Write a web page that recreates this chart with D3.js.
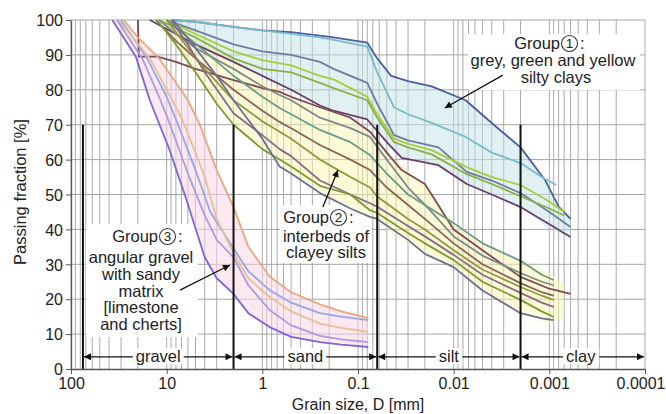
<!DOCTYPE html>
<html><head><meta charset="utf-8">
<script src="https://cdn.jsdelivr.net/npm/d3@7"></script>
<style>body{margin:0;background:#fff}svg{display:block;font-family:"Liberation Sans",Arial,sans-serif}</style>
</head><body><svg id="c" width="666" height="414"></svg>
<script>
// ---------- DATA ----------
const yTicks = [0,10,20,30,40,50,60,70,80,90,100];
const xTicks = [100,10,1,0.1,0.01,0.001,0.0001];
const xTickLabels = ["100","10","1","0.1","0.01","0.001","0.0001"];
const classBounds = [75, 2, 0.063, 0.002];
const classNames = ["gravel","sand","silt","clay"];
const classRanges = [[75,2],[2,0.063],[0.063,0.002],[0.002,0.0001]];

// Group 1 : grey, green and yellow silty clays   [diameter mm, passing %]
const g1DarkBlue = [[9,100],[5,99.5],[2,98],[1,97],[0.5,96.5],[0.25,95.5],[0.18,95],[0.08,93.5],[0.063,89],[0.045,84],[0.03,82.5],[0.017,81],[0.0075,77],[0.004,70.5],[0.002,63.5],[0.0011,54],[0.0008,46.5],[0.0006,43]];
const g1Teal = [[9,100],[5,99.5],[2,98],[1,97],[0.5,96],[0.25,95],[0.18,94.3],[0.08,92.4],[0.063,85],[0.042,75],[0.03,73],[0.017,70.5],[0.0075,66.5],[0.004,62],[0.002,59],[0.0012,55],[0.00085,52.7]];
const g1GreyBlue = [[10,100],[5,97],[2,93],[1,91],[0.5,90],[0.25,88],[0.18,86],[0.08,82],[0.063,76],[0.042,67],[0.03,65.5],[0.0144,63.5],[0.0073,56.5],[0.004,54],[0.002,50.4],[0.001,45],[0.0006,40.7]];
const g1Lime = [[10,100],[5,96],[2,91],[1,88.5],[0.5,87],[0.25,84],[0.18,83],[0.08,78],[0.063,73],[0.042,66],[0.03,64.5],[0.017,62.7],[0.0075,58],[0.004,55],[0.002,52.7],[0.001,48],[0.0007,45]];
const g1Green = [[12,100],[5,95],[2,89],[1,86],[0.5,85],[0.25,82],[0.18,80.5],[0.08,77],[0.063,72],[0.042,65],[0.03,63.5],[0.017,61.5],[0.0075,56],[0.004,53],[0.002,49.5],[0.001,46],[0.0007,44]];
const g1Purple = [[15,100],[5,93],[2,88],[1,84],[0.5,80],[0.25,75.5],[0.18,74],[0.08,71.5],[0.05,65],[0.035,60.5],[0.0144,58.4],[0.0073,53],[0.004,50],[0.002,46.4],[0.001,41.5],[0.0006,37.8]];
// [diameter, lower %, upper %]
const g1Band = [[9,100,100],[5,93,99.5],[2,88,98],[1,84,97],[0.5,80,96.5],[0.25,75.5,95.5],[0.08,71.5,93.5],[0.063,68,89],[0.045,63,84],[0.035,60.5,83],[0.017,58.6,81],[0.0075,53,77],[0.004,50,70.5],[0.002,46.4,63.5],[0.0011,41,54],[0.0008,39,46.5],[0.0006,37.8,43]];

// Group 2 : interbeds of clayey silts
const g2Maroon = [[20,100],[19.5,89.5],[12.5,89.5],[8,88],[5,86],[2,82.8],[1,80.5],[0.66,79.4],[0.5,78],[0.25,75],[0.12,72],[0.075,68],[0.05,62],[0.035,57],[0.02,53],[0.01,40],[0.005,34],[0.002,26.4],[0.001,23],[0.0006,21.5]];
const g2Grey = [[12,100],[8,96],[5,92],[2,86],[1,81],[0.66,78.5],[0.5,77],[0.25,72],[0.12,69],[0.075,66.5],[0.05,60],[0.03,52],[0.0177,45.5],[0.01,38],[0.005,32.5],[0.002,27.5],[0.0012,25],[0.0009,24]];
const g2TealGreen = [[10,100],[6,95],[4,91],[2,84],[1,78],[0.66,74.8],[0.5,73],[0.25,68.5],[0.12,65],[0.075,61.3],[0.05,56],[0.03,50],[0.02,47],[0.01,41.8],[0.005,36],[0.002,31],[0.0012,27],[0.0009,25.5]];
const g2Brown = [[13,100],[8,94],[5,89],[2,80],[1,74],[0.66,70.8],[0.5,69],[0.25,64.2],[0.12,60],[0.075,57],[0.05,52],[0.03,47],[0.02,43],[0.01,36],[0.005,30],[0.002,24.6],[0.0012,22],[0.0009,21]];
const g2Olive = [[10,100],[6,92],[4,86],[2,77],[1,71],[0.66,68],[0.5,66],[0.25,60],[0.12,55],[0.075,52],[0.063,49.4],[0.03,43],[0.02,40],[0.01,34],[0.005,28.5],[0.002,23.5],[0.0012,21],[0.0009,19.8]];
const g2Mauve = [[9,100],[6,93],[4,85],[2,73.3],[1,67],[0.66,63],[0.5,61],[0.25,54],[0.12,50],[0.075,47.5],[0.063,46.5],[0.03,41],[0.02,38],[0.01,32.7],[0.005,27],[0.002,21.8],[0.0012,19],[0.0009,17.8]];
const g2Green = [[12.7,100],[8,93],[5,85],[3,76],[2,70],[1,63],[0.66,60],[0.5,58],[0.25,52.5],[0.12,50],[0.075,45.5],[0.063,44.7],[0.03,39],[0.02,36],[0.01,31.2],[0.005,25],[0.002,19.8],[0.0012,16.5],[0.0009,14.9]];
const g2GreyBlue = [[8.6,100],[5,92],[3,84],[2,77],[1,66],[0.66,58],[0.5,56],[0.25,50.4],[0.12,46],[0.075,43.6],[0.063,43],[0.03,37],[0.02,33],[0.01,29.2],[0.005,22.5],[0.002,16],[0.0012,14.5],[0.0009,14]];
const g2Band = [[13,100,100],[8,93,100],[5,85,97],[3,76,92],[2,70,88],[1,63,83],[0.5,56,78],[0.25,50.4,75],[0.12,46,72],[0.075,43.6,68],[0.05,40,62],[0.02,33,53],[0.01,29.2,42],[0.005,22.5,36],[0.002,16,31],[0.001,13,27.5],[0.0007,15,24]];

// Group 3 : angular gravel with sandy matrix
const g3Orange = [[28,100],[20,95],[12,89],[8,82],[6,77],[4.5,70],[3,57],[2,46.4],[1.4,35],[0.84,26.5],[0.5,22],[0.25,18.5],[0.15,16.5],[0.078,14.6]];
const g3LightBlue = [[30,100],[16,89],[10,78],[7.6,70],[5,57],[3.5,45],[2,34.5],[1.4,28],[0.84,22.6],[0.5,19],[0.25,16],[0.15,15],[0.078,14]];
const g3Tan = [[32,100],[15,89],[10,80],[7,72],[5,62],[4,55],[3,43],[2,33.2],[1.4,26],[0.84,20.6],[0.5,16.5],[0.25,13],[0.15,11.8],[0.078,10.6]];
const g3Lilac = [[33,100],[18,89],[12,78],[9.2,70],[6,56],[4,44],[3,37],[2,32],[1.4,24],[0.84,16.9],[0.5,12.5],[0.25,9.5],[0.15,8.5],[0.078,7.7]];
const g3Violet = [[37,100],[21,89.5],[15,77],[9.3,62.7],[6.2,48.4],[4,32],[3,26],[2,21.5],[1.4,16],[0.84,12],[0.5,9.2],[0.25,7.7],[0.15,7],[0.078,6.3]];
const g3Band = [[37,100,100],[28,95,100],[21,89.5,95.5],[15,77,91.5],[12,70,89],[9.3,62.7,84.5],[6.2,48.4,77.5],[4.5,37,70],[4,32,66],[3,26,57],[2,21.5,46.4],[1.4,16,35],[0.84,12,26.5],[0.5,9.2,22],[0.25,7.7,18.5],[0.15,7,16.5],[0.078,6.3,14.6]];

// ---------- STYLE ----------
const series = [
  {d:g1DarkBlue, c:"#4b5ea0"},{d:g1Teal, c:"#78bccb"},{d:g1GreyBlue, c:"#6d7ea3"},
  {d:g1Lime, c:"#a9cc3d"},{d:g1Green, c:"#8fb040"},{d:g1Purple, c:"#6a3f63"},
  {d:g2Maroon, c:"#7d4b55"},{d:g2Grey, c:"#7f8a8c"},{d:g2TealGreen, c:"#6a9c8a"},
  {d:g2Brown, c:"#8b6456"},{d:g2Olive, c:"#8f9a3c"},{d:g2Mauve, c:"#8a6a86"},
  {d:g2Green, c:"#7a9a35"},{d:g2GreyBlue, c:"#6c6f96"},
  {d:g3Orange, c:"#e8a77c"},{d:g3LightBlue, c:"#95a8ea"},{d:g3Tan, c:"#e9bf98"},
  {d:g3Lilac, c:"#ad9be0"},{d:g3Violet, c:"#7a66d6"}
];
const bands = [
  {d:g2Band, c:"#fbf6b0", o:0.5},
  {d:g1Band, c:"#c2e2e8", o:0.5},
  {d:g3Band, c:"#f8d6e4", o:0.55}
];

// ---------- CHART ----------
const svg = d3.select("#c");
const W=666,H=414;
svg.append("rect").attr("width",W).attr("height",H).attr("fill","#fff");
const x = d3.scaleLog().domain([100,0.0001]).range([71,645]);
const y = d3.scaleLinear().domain([0,100]).range([369,20]);

// grid
const minor=[];
for(let k=-4;k<=1;k++) for(let i=1;i<=9;i++){const v=i*Math.pow(10,k); if(v>=0.0001-1e-12 && v<=100) minor.push(v);}
minor.push(100);
svg.append("g").selectAll("line").data(minor).join("line")
  .attr("x1",d=>x(d)).attr("x2",d=>x(d)).attr("y1",y(0)).attr("y2",y(100))
  .attr("stroke","#aaaaaa").attr("stroke-width",1);
svg.append("g").selectAll("line").data(yTicks.slice(1)).join("line")
  .attr("x1",x(100)).attr("x2",x(0.0001)).attr("y1",d=>y(d)).attr("y2",d=>y(d))
  .attr("stroke","#a4a4a4").attr("stroke-width",1);

// white label boxes
[[468,34,172,56],[280,205,92,58],[86,224,112,113]].forEach(b=>{
  svg.append("rect").attr("x",b[0]).attr("y",b[1]).attr("width",b[2]).attr("height",b[3]).attr("fill","#fff");
});

// fills
const area = d3.area().x(d=>x(d[0])).y0(d=>y(d[1])).y1(d=>y(d[2]));
bands.forEach(b=>svg.append("path").attr("d",area(b.d)).attr("fill",b.c).attr("fill-opacity",b.o));

// curves
const line = d3.line().x(d=>x(d[0])).y(d=>y(d[1]));
series.forEach(s=>svg.append("path").attr("d",line(s.d)).attr("fill","none")
  .attr("stroke",s.c).attr("stroke-width",1.8).attr("stroke-linejoin","round"));

// class boundaries
svg.append("g").selectAll("line").data(classBounds).join("line")
  .attr("x1",d=>x(d)).attr("x2",d=>x(d)).attr("y1",y(0)).attr("y2",y(70))
  .attr("stroke","#111").attr("stroke-width",2);

// markers
const defs = svg.append("defs");
defs.append("marker").attr("id","ah").attr("viewBox","0 0 10 10").attr("refX",10).attr("refY",5)
  .attr("markerWidth",10).attr("markerHeight",7).attr("markerUnits","userSpaceOnUse").attr("orient","auto-start-reverse")
  .append("path").attr("d","M0,0L10,5L0,10z").attr("fill","#111");

// class range arrows
const arrowY = y(3.5);
classRanges.forEach((r,i)=>{
  const x1=x(r[0])+1, x2=x(r[1])-1;
  svg.append("line").attr("x1",x1).attr("x2",x2).attr("y1",arrowY).attr("y2",arrowY)
    .attr("stroke","#111").attr("stroke-width",1.2)
    .attr("marker-start","url(#ah)").attr("marker-end","url(#ah)");
  const t = svg.append("text").attr("x",(x1+x2)/2+ (i==0?0:i==3?-2:0)).attr("y",arrowY+5.5).attr("text-anchor","middle")
    .attr("font-size",16.5).attr("fill","#222").text(classNames[i]);
  const bb=t.node().getBBox();
  svg.insert("rect","text:last-of-type").attr("x",bb.x-3).attr("y",bb.y+1).attr("width",bb.width+6).attr("height",bb.height-2).attr("fill","#fff");
  t.raise();
});

// annotation text
function txt(xp,yp,s,anchor){return svg.append("text").attr("x",xp).attr("y",yp).attr("text-anchor",anchor||"middle")
  .attr("font-size",16.5).attr("fill","#222").text(s);}
function groupHead(xEnd,yb,num){
  txt(xEnd,yb,"Group","end");
  svg.append("circle").attr("cx",xEnd+9.5).attr("cy",yb-5.5).attr("r",8).attr("fill","#fff").attr("stroke","#333").attr("stroke-width",1.1);
  svg.append("text").attr("x",xEnd+9.5).attr("y",yb-1).attr("text-anchor","middle").attr("font-size",13.5).attr("fill","#222").text(num);
  txt(xEnd+20,yb,":","start");
}
groupHead(560,49,"1");
txt(553,66,"grey, green and yellow");
txt(556,82.5,"silty clays");
groupHead(329,223,"2");
txt(326,241.5,"interbeds of");
txt(326,258,"clayey silts");
groupHead(158,242,"3");
txt(141,263,"angular gravel");
txt(141,280,"with sandy");
txt(141,296.5,"matrix");
txt(141,313,"[limestone");
txt(141,330,"and cherts]");

// annotation arrows [from, to] in data coords
const annArrows = [[[0.00306,84.2],[0.0124,74.8]],[[0.233,46.4],[0.162,57]],[[7.26,22.6],[2.18,29.8]]];
annArrows.forEach(a=>svg.append("line").attr("x1",x(a[0][0])).attr("y1",y(a[0][1])).attr("x2",x(a[1][0])).attr("y2",y(a[1][1]))
  .attr("stroke","#111").attr("stroke-width",1.3).attr("marker-end","url(#ah)"));

// axes
const yAxis = svg.append("g").attr("transform",`translate(${x(100)},0)`)
  .call(d3.axisLeft(y).tickValues(yTicks).tickSize(5).tickSizeOuter(0).tickPadding(3).tickFormat(d3.format("d")));
const xAxis = svg.append("g").attr("transform",`translate(0,${y(0)})`)
  .call(d3.axisBottom(x).tickValues(xTicks).tickSize(5).tickSizeOuter(0).tickPadding(4).tickFormat((d,i)=>xTickLabels[i]));
[yAxis,xAxis].forEach(g=>{g.selectAll("text").attr("font-size",16).attr("fill","#222").attr("font-family","Liberation Sans, Arial, sans-serif");
  g.selectAll("line").attr("stroke","#555"); g.select(".domain").attr("stroke","#555").attr("stroke-width",1.3);});
xAxis.selectAll(".tick text").filter((d,i)=>i===xTicks.length-1).attr("text-anchor","end").attr("dx",20);
yAxis.selectAll(".tick text").attr("dy","0.36em");

svg.append("text").attr("x",358).attr("y",410).attr("text-anchor","middle").attr("font-size",16).attr("fill","#222").text("Grain size, D [mm]");
svg.append("text").attr("transform","translate(26,192) rotate(-90)").attr("text-anchor","middle").attr("font-size",16.5).attr("fill","#222").text("Passing fraction [%]");
</script></body></html>
